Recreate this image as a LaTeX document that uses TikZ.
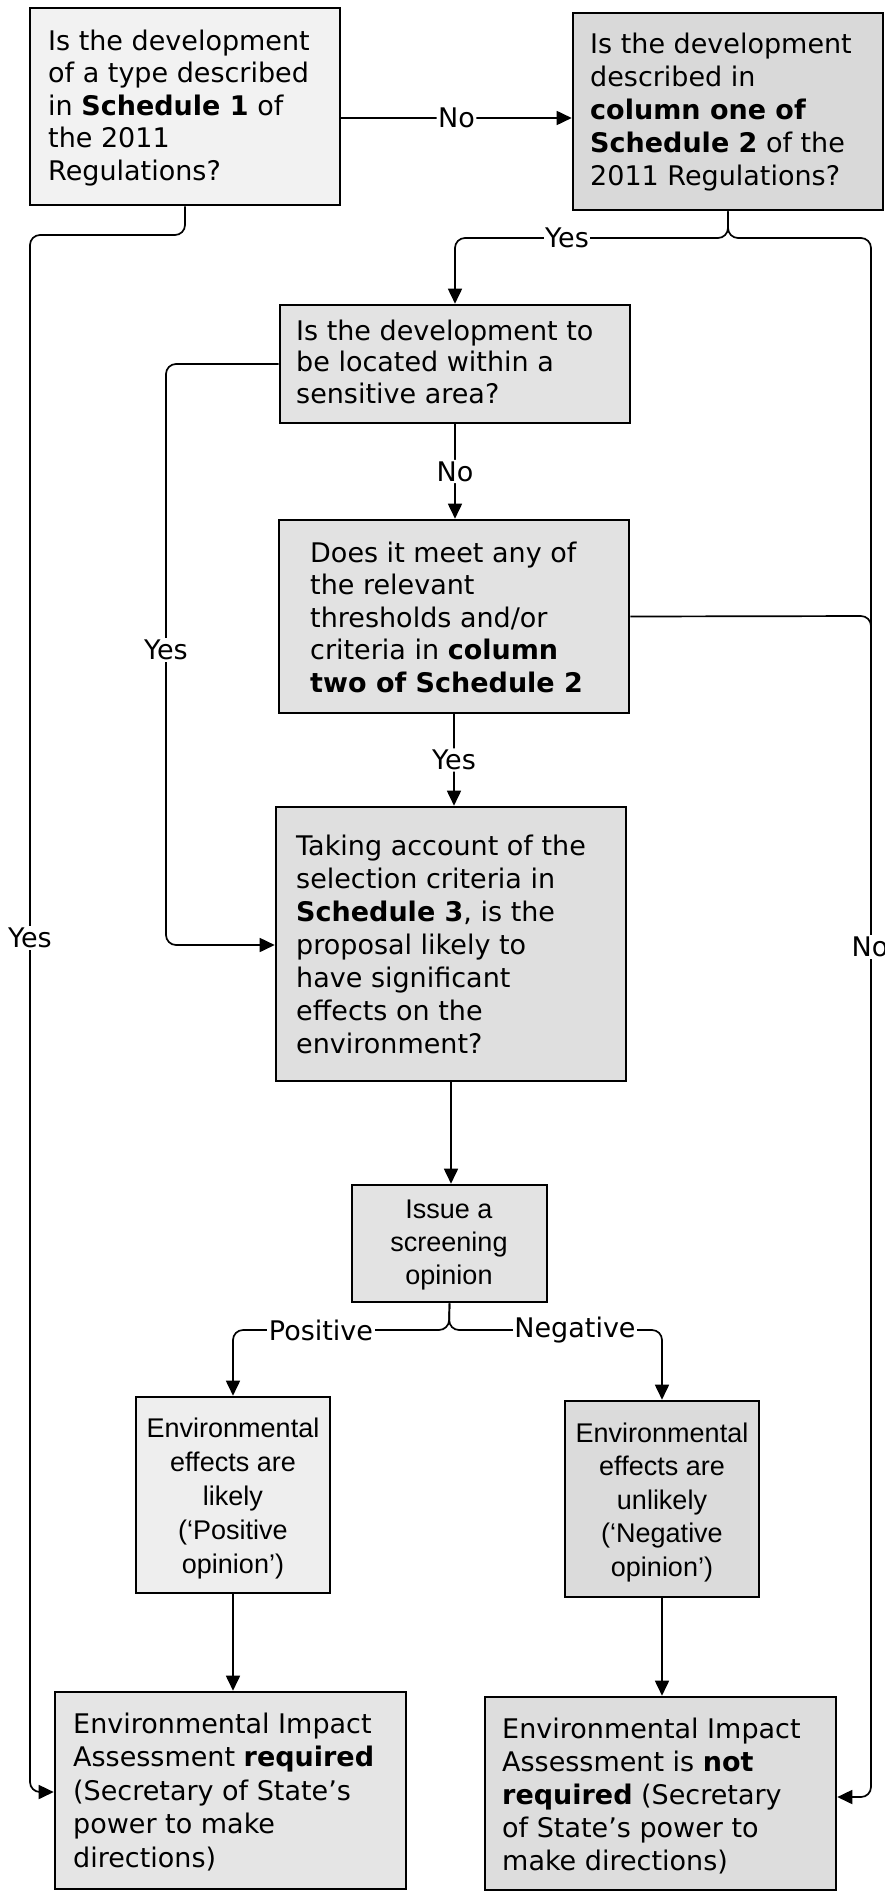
\documentclass[tikz,border=0pt]{standalone}
\usepackage{fontspec}
\setmainfont{DejaVu Sans}
\newfontfamily\arialfont{Liberation Sans}
\usetikzlibrary{arrows.meta}
\newcommand\mkbox[6]{\node[box, fill=#6, minimum width={#4-#2}, minimum height={#5-#3}] (#1) at ({(#2+#4)/2},{(#3+#5)/2}) {};}
\begin{document}
\begin{tikzpicture}[x=1pt,y=-1pt,
  box/.style={draw, line width=2.6pt, inner sep=0pt},
  conn/.style={line width=1.7pt, rounded corners=10pt},
  arr/.style={-{Triangle[length=15pt,width=14pt]}},
  lbl/.style={fill=white, inner sep=1.5pt, font=\fontsize{27}{33}\selectfont},
  vtxt/.style={inner sep=0pt, align=left, anchor=north west, font=\fontsize{27}{33}\selectfont},
  atxt/.style={inner sep=0pt, align=center, anchor=north, font=\arialfont\fontsize{27}{34}\selectfont}]
\fill[white] (0,0) rectangle (885,1892);
\useasboundingbox (0,0) rectangle (885,1892);
% boxes
\mkbox{b1}{30}{8}{340}{205}{gray!10}
\mkbox{b2}{573}{13}{883}{210}{gray!30}
\mkbox{b3}{280}{305}{630}{423}{gray!22}
\mkbox{b4}{279}{520}{629}{713}{gray!23}
\mkbox{b5}{276}{807}{626}{1081}{gray!25}
\mkbox{b6}{352}{1185}{547}{1302}{gray!22}
\mkbox{b7}{136}{1397}{330}{1593}{gray!13}
\mkbox{b8}{565}{1401}{759}{1597}{gray!28}
\mkbox{b9}{55}{1692}{406}{1889}{gray!20}
\mkbox{b10}{485}{1697}{836}{1890}{gray!27}
% texts
\node[vtxt, font=\fontsize{27}{32.5}\selectfont] (t1) at (48,{50-22.75}) {\strut Is the development\\of a type described\\in \textbf{Schedule 1} of\\the 2011\\Regulations?};
\node[vtxt] (t2) at (590,{53-23.1}) {\strut Is the development\\described in\\\textbf{column one of}\\\textbf{Schedule 2} of the\\2011 Regulations?};
\node[vtxt, font=\fontsize{27}{31.7}\selectfont] (t3) at (296,{340-22.19}) {\strut Is the development to\\be located within a\\sensitive area?};
\node[vtxt, font=\fontsize{27}{32.5}\selectfont] (t4) at (310,{562-22.75}) {\strut Does it meet any of\\the relevant\\thresholds and/or\\criteria in \textbf{column}\\\textbf{two of Schedule 2}};
\node[vtxt] (t5) at (296,{855-23.1}) {\strut Taking account of the\\selection criteria in\\\textbf{Schedule 3}, is the\\proposal likely to\\have significant\\effects on the\\environment?};
\node[atxt, font=\arialfont\fontsize{27}{33}\selectfont] (t6) at (449,{1218-23.1}) {\strut Issue a\\screening\\opinion};
\node[atxt] (t7) at (233,{1437-23.8}) {\strut Environmental\\effects are\\likely\\(‘Positive\\opinion’)};
\node[atxt, font=\arialfont\fontsize{27}{33.5}\selectfont] (t8) at (662,{1442-23.45}) {\strut Environmental\\effects are\\unlikely\\(‘Negative\\opinion’)};
\node[vtxt, font=\fontsize{27}{33.5}\selectfont] (t9) at (73,{1733-23.45}) {\strut Environmental Impact\\Assessment \textbf{required}\\(Secretary of State’s\\power to make\\directions)};
\node[vtxt] (t10) at (502,{1738-23.1}) {\strut Environmental Impact\\Assessment is \textbf{not}\\\textbf{required} (Secretary\\of State’s power to\\make directions)};
% connectors
\draw[conn,arr] (b1.east |- 0,118) -- node[lbl] (lNo1) {No} (b2.west |- 0,118);
\draw[conn,arr] (b1.south) -- (185,235) -- (30,235) -- (30,1792) -- (b9.west |- 0,1792);
\node[lbl] (lYes1) at (30,938) {Yes};
\draw[conn,arr] (b2.south) -- (728,238) -- (455,238) -- (b3.north);
\draw[conn,arr] (b2.south) -- (728,238) -- (871,238) -- (871,1797) -- (b10.east |- 0,1797);
\node[lbl] (lYes2) at (567,238) {Yes};
\node[lbl] (lNo2) at (870,947) {No};
\draw[conn,arr] (b3.west) -- (166,364) -- (166,945) -- (b5.west |- 0,945);
\node[lbl] (lYes3) at (166,650) {Yes};
\draw[conn,arr] (b3.south) -- node[lbl] (lNo3) {No} (b3.south |- b4.north);
\draw[conn] (b4.east) -- (871,616) -- (871,680);
\draw[conn,arr] (b4.south) -- node[lbl] (lYes4) {Yes} (b4.south |- b5.north);
\draw[conn,arr] (b5.south) -- (b5.south |- b6.north);
\draw[conn,arr] (b6.south) -- (449,1330) -- (233,1330) -- (b7.north);
\draw[conn,arr] (b6.south) -- (449,1330) -- (662,1330) -- (b8.north);
\node[lbl] (lPos) at (321,1330) {Positive};
\node[lbl] (lNeg) at (575,1330) {Negative};
\draw[conn,arr] (b7.south) -- (b7.south |- b9.north);
\draw[conn,arr] (b8.south) -- (b8.south |- b10.north);
\end{tikzpicture}
\end{document}
